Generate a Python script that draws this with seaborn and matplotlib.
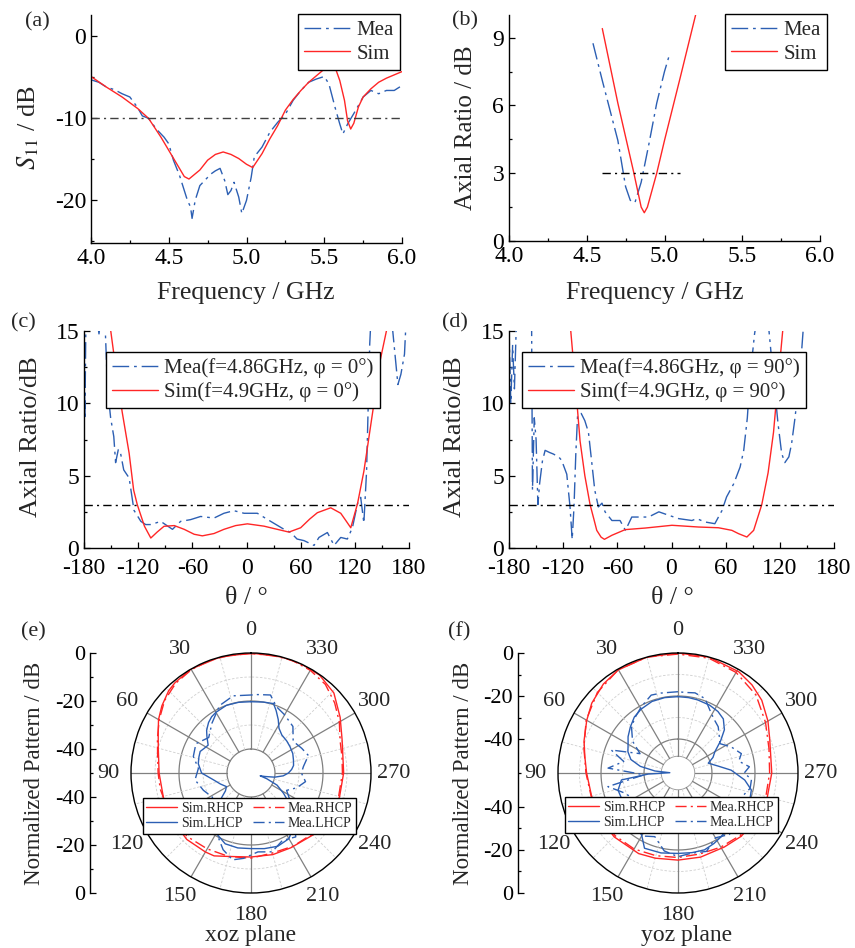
import numpy as np
import matplotlib
matplotlib.use('Agg')
import matplotlib.pyplot as plt
from matplotlib.ticker import MultipleLocator, FixedLocator
import seaborn as sns

sns.set_style('ticks')
plt.rcParams['font.family'] = ['Liberation Serif', 'DejaVu Serif']
plt.rcParams['mathtext.fontset'] = 'stix'
plt.rcParams['axes.unicode_minus'] = False

BLUE = '#2c5fb3'
RED = '#ff2626'
DASHDOT = (0, (12, 3.5, 2, 3.5))
REFDASH = (0, (6, 3, 1.5, 3))

# (a) S11 vs frequency
freq_a_sim = [4.0, 4.1, 4.2, 4.3, 4.37, 4.45, 4.5, 4.55, 4.6, 4.63, 4.7, 4.75, 4.8, 4.85, 4.9,
              4.95, 5.0, 5.04, 5.1, 5.15, 5.2, 5.25, 5.3, 5.35, 5.4, 5.45, 5.5, 5.53, 5.57, 5.6,
              5.63, 5.65, 5.67, 5.69, 5.72, 5.75, 5.8, 5.85, 5.9, 5.95, 6.0]
s11_sim = [-4.9, -6.2, -7.4, -8.8, -10.0, -12.3, -13.9, -15.5, -17.1, -17.4, -16.3, -15.1, -14.4, -14.1, -14.4,
           -14.9, -15.6, -16.0, -14.3, -12.5, -10.9, -9.0, -7.7, -6.6, -5.6, -4.8, -4.0, -3.6, -3.8, -5.4,
           -7.8, -10.3, -11.3, -10.6, -8.6, -7.4, -6.4, -5.6, -5.1, -4.7, -4.3]
freq_a_mea = [4.0, 4.05, 4.1, 4.15, 4.2, 4.25, 4.3, 4.33, 4.37, 4.42, 4.47, 4.5, 4.53, 4.57, 4.6,
              4.62, 4.64, 4.65, 4.67, 4.7, 4.73, 4.77, 4.8, 4.83, 4.86, 4.88, 4.9, 4.92, 4.95, 4.97,
              5.0, 5.03, 5.05, 5.1, 5.15, 5.2, 5.25, 5.3, 5.35, 5.4, 5.45, 5.5, 5.53, 5.57, 5.6,
              5.62, 5.65, 5.7, 5.75, 5.8, 5.85, 5.9, 5.95, 6.0]
s11_mea = [-5.3, -5.6, -6.2, -6.5, -7.0, -7.4, -8.7, -9.7, -10.0, -11.3, -12.3, -13.1, -15.1, -17.0, -18.8,
           -20.0, -20.8, -22.2, -20.0, -18.2, -17.6, -16.8, -16.4, -16.1, -17.6, -19.3, -18.8, -17.8, -19.6, -21.6,
           -20.0, -17.2, -14.7, -13.5, -11.7, -10.5, -9.5, -7.8, -6.6, -5.6, -5.2, -4.9, -5.8, -8.7, -10.7,
           -11.9, -10.7, -9.1, -7.4, -6.6, -7.0, -6.6, -6.6, -6.0]

# (b) axial ratio vs frequency
freq_b_sim = [4.6, 4.7, 4.8, 4.85, 4.87, 4.89, 4.95, 5.0, 5.1, 5.2]
ar_b_sim = [9.4, 6.1, 3.1, 1.5, 1.25, 1.5, 3.0, 4.45, 7.2, 10.0]
freq_b_mea = [4.54, 4.6, 4.7, 4.75, 4.78, 4.81, 4.85, 4.9, 4.95, 5.0, 5.03]
ar_b_mea = [8.75, 7.1, 4.45, 2.4, 1.8, 1.7, 2.6, 4.3, 6.1, 7.5, 8.2]

# (c) axial ratio vs theta, phi = 0
th_c_sim = [-151, -145, -137.7, -130, -125, -121, -113, -106, -99, -91.4, -80, -69, -58, -48.9, -36, -25, -12, 1,
            19.4, 30, 41.6, 47, 60, 70, 78.5, 93.3, 104.4, 110, 115.5, 123, 130, 133, 140, 147.5, 156]
ar_c_sim = [15.3, 12.5, 9.4, 6.55, 4.0, 3.0, 1.5, 0.69, 1.1, 1.5, 1.55, 1.29, 0.95, 0.84, 1.0, 1.29, 1.55, 1.67,
            1.51, 1.35, 1.18, 1.1, 1.4, 2.0, 2.44, 2.78, 2.4, 1.9, 1.4, 3.07, 5.3, 6.55, 9.5, 12.8, 15.3]
th_c_mea = [-180, -179, -178, -176, -166, -163.4, -161, -157, -154, -150.5, -147, -145, -142, -139.5, -136, -130,
            -124.6, -117, -111.7, -106, -95, -82, -73, -62, -50.8, -36, -25, -14, -2.7, 12, 26.8, 41.6, 49, 56,
            63.7, 74.8, 80.3, 89.6, 97, 104.4, 111.7, 117.3, 123, 126.5, 130, 133, 136.5, 138, 160, 162,
            167.7, 171, 175, 177]
ar_c_mea = [14.8, 8.9, 15.0, 16, 16, 14.8, 16, 16, 11.1, 9.0, 7.7, 5.9, 6.8, 6.55, 5.4, 4.84,
            2.6, 1.84, 1.62, 1.62, 1.84, 1.29, 1.84, 1.96, 2.18, 2.07, 2.4, 2.58, 2.4, 2.4, 1.84, 1.29, 1.07, 0.62,
            0.51, 0.18, 0.73, 1.07, 0.18, 0.73, 0.62, 1.4, 3.07, 3.5, 1.73, 5.3, 14.1, 16, 16, 15,
            11.3, 12.0, 13.4, 16]

# (d) axial ratio vs theta, phi = 90
th_d_sim = [-112, -106, -101.3, -96, -90.2, -86, -82.8, -78, -74.3, -66, -51.3, -29, 0.5, 30, 52, 66.9, 74.3,
            83.5, 91, 100, 107, 113, 118, 123.6]
ar_d_sim = [15.3, 11.0, 7.4, 5.0, 3.0, 2.0, 1.22, 0.75, 0.6, 0.88, 1.27, 1.38, 1.57, 1.45, 1.4, 1.22, 0.99,
            0.76, 1.22, 3.0, 5.2, 8.0, 11.5, 15.3]
th_d_mea = [-180, -178, -176, -174, -172, -165, -155, -154, -152, -150, -148, -146, -143, -140, -135, -131,
            -125, -121.7, -116, -112.4, -110, -108, -106, -104, -100, -96, -92, -89, -85, -81, -77, -73.6,
            -66, -57, -51, -44, -36, -25.5, -14, -3, 8, 22.6, 28, 37, 48, 56, 61, 69, 76, 80, 84, 87, 92,
            95, 105, 108, 111, 115, 118, 122, 125.5, 130, 133, 136.5, 142, 146]
ar_d_mea = [15.2, 10.0, 14.0, 11.0, 15.2, 16, 16, 4.0, 9.0, 7.5, 3.0, 4.5, 6.0, 6.75, 6.6, 6.5,
            6.3, 6.06, 5.1, 2.84, 0.6, 2.84, 6.5, 9.2, 9.3, 8.8, 8.0, 6.3, 4.0, 2.84, 3.1, 2.5,
            1.9, 1.9, 1.22, 2.14, 2.14, 2.14, 2.5, 2.26, 2.03, 1.9, 2.03, 1.8, 1.68, 2.6, 3.53, 4.45, 5.6, 6.75,
            9.0, 11.8, 14.8, 16, 16, 15, 13, 10.5, 8.6, 6.55, 5.9, 6.3, 7.2, 8.85, 11.8, 15.2]

# (e) xoz-plane patterns (angle in deg, level in dB)
ang_e_srh = [0, 15, 30, 40, 45, 53, 60, 67, 75, 90, 107, 120, 136, 150, 156, 165, 180, 195, 208, 225, 241,
             255, 270, 290, 302, 314, 325, 335, 345, 360]
e_srh = [0, 0, 0, -0.8, -1.5, -3.5, -5.5, -8, -10, -11.7, -12, -11.8, -11.5, -12, -12.2, -14, -15, -14.8,
         -14.7, -13.5, -12.3, -11.8, -11.4, -9.6, -6.2, -2, -0.2, 0, 0, 0]
ang_e_mrh = [0, 10, 20, 30, 40, 50, 60, 70, 80, 90, 100, 110, 120, 135, 150, 165, 180, 195, 210, 225, 240,
             255, 270, 280, 290, 300, 310, 320, 330, 340, 350, 360]
e_mrh = [-0.3, -0.2, 0, -0.3, -1.2, -3, -5.8, -8.5, -10.5, -11.3, -11.6, -12.2, -12, -12.5, -13.5, -14, -14.5,
         -15.5, -14.8, -14, -12.8, -12.2, -11.9, -11.5, -10.5, -7.5, -4.5, -1.8, -0.6, 0, -0.2, -0.3]
ang_e_slh = [0, 10, 20, 30, 35, 40, 46, 50, 57, 62, 67, 73, 80, 90, 100, 110, 119, 125, 130, 140, 150, 160,
             170, 180, 190, 200, 210, 220, 230, 238, 245, 250, 253, 256, 260, 265, 270, 275, 280, 287, 295,
             304, 312, 321, 328, 333, 338, 342, 350, 360]
e_slh = [-20.3, -20.1, -20, -20.8, -21.4, -22.5, -24.3, -26, -28.7, -28, -27, -27.3, -27.7, -29.4, -34, -36.5,
         -38.3, -37, -34, -27, -21, -18.6, -18.3, -18.5, -18, -17.5, -18.4, -22, -28, -34, -38, -43, -46, -44,
         -40, -36.5, -34.4, -33, -32, -31.5, -30.8, -30.4, -30, -29.6, -28, -25, -22, -19.6, -20, -20.3]
ang_e_mlh = [0, 13, 25, 38, 50, 62, 74, 85, 97, 110, 122, 135, 148, 160, 168, 175, 185, 195, 205, 215, 228,
             244, 252, 261, 270, 277, 287, 296, 307, 318, 330, 339, 346, 355, 360]
e_mlh = [-17.5, -17, -19, -23.6, -27, -24, -25, -28, -26.5, -28.9, -31, -29, -22, -16, -13, -14.3, -17, -16,
         -19, -17.5, -26, -33.5, -30, -27, -29, -28, -25, -26.5, -28, -23.9, -22, -20.4, -16.5, -17.2, -17.5]

# (f) yoz-plane patterns
ang_f_srh = [0, 15, 30, 40, 51, 60, 71, 80, 90, 105, 120, 135, 154, 165, 180, 195, 212, 225, 241, 255, 270,
             290, 300, 311, 320, 329, 345, 360]
f_srh = [0, 0, -0.4, -1.8, -4.2, -6.8, -9.6, -11.8, -13.3, -14.2, -14, -13.8, -14.1, -14.8, -15.3, -15.3,
         -15.2, -14.2, -13.3, -12.8, -12.2, -10.4, -7.5, -4.2, -2.3, -0.9, 0, 0]
ang_f_mrh = [0, 15, 30, 45, 60, 75, 90, 105, 120, 135, 150, 165, 180, 195, 210, 225, 240, 255, 270, 285,
             300, 315, 330, 345, 360]
f_mrh = [-0.5, 0, -0.3, -2.8, -6.5, -10.5, -13, -14, -14.3, -14.5, -15, -16, -16.5, -16.8, -16, -14.8, -14,
         -13.5, -13.2, -12, -8.8, -4.5, -1.8, -0.5, -0.5]
ang_f_slh = [0, 10, 20, 30, 38, 46, 54, 60, 67, 74, 80, 85, 88, 92, 97, 106, 115, 125, 135, 145, 156, 168,
             180, 190, 199, 207, 214, 225, 235, 245, 250, 257, 264, 273, 280, 288, 294, 300, 307, 313, 320,
             327, 335, 345, 352, 360]
f_slh = [-20.3, -20.2, -20.4, -21.5, -22.8, -25, -27.1, -29, -30.5, -33, -38, -45, -52, -42, -29.3, -26.8,
         -27, -30, -32, -25, -17.5, -17.8, -18.4, -18.2, -18, -19, -20, -21.5, -22, -21, -20.2, -20.8, -24.6,
         -31, -37, -41, -38, -36, -31, -26.3, -23, -21.7, -21, -20.6, -20.4, -20.3]
ang_f_mlh = [0, 12, 19, 29, 37, 45, 55, 63, 71, 78, 86, 93, 101, 110, 120, 135, 150, 160, 170, 180, 190,
             200, 210, 220, 235, 250, 258, 265, 270, 275, 281, 287, 296, 305, 312, 319, 325, 331, 340, 348,
             355, 360]
f_mlh = [-18, -17.8, -17.5, -20.6, -23, -25.2, -30, -36, -23, -30, -23.2, -40, -22.6, -29, -32, -28, -22,
         -24.3, -19, -16.9, -18, -17, -21, -18.5, -23, -24, -21.5, -21.5, -25, -22.5, -27, -25, -28.2, -32,
         -30, -27.3, -26, -24, -19, -17.7, -18.2, -18]

angle_ticks = list(range(0, 360, 30))
angle_labels = [str(a) for a in angle_ticks]

W, H = 855, 948
fig = plt.figure(figsize=(W / 100, H / 100), dpi=100)


def box(l, t, r, b):
    return [l / W, 1 - b / H, (r - l) / W, (b - t) / H]


def fpos(x, y):
    return (x / W, 1 - y / H)


def style_cart(ax, xpad=3.5):
    for s in ('top', 'right'):
        ax.spines[s].set_visible(False)
    for s in ('left', 'bottom'):
        ax.spines[s].set_linewidth(1.0)
        ax.spines[s].set_color('black')
    ax.tick_params(which='both', direction='in', labelsize=17, width=0.9, colors='black')
    ax.tick_params(which='major', length=4)
    ax.tick_params(which='minor', length=2.5)
    ax.tick_params(axis='x', which='major', pad=xpad)
    ax.set_xlabel('')
    ax.set_ylabel('')


def add_legend(ax, loc, x, y, size=15):
    ax.legend(loc=loc, bbox_to_anchor=fpos(x, y), bbox_transform=fig.transFigure, fontsize=size,
              frameon=True, fancybox=False, edgecolor='black', framealpha=1, borderaxespad=0,
              handlelength=2.2, handletextpad=0.3, borderpad=0.3, labelspacing=0.2)
    ax.get_legend().get_frame().set_linewidth(1.0)


# ---- (a)
ax = fig.add_axes(box(91, 15, 402, 243))
sns.lineplot(x=freq_a_mea, y=s11_mea, ax=ax, color=BLUE, lw=1.0, linestyle=DASHDOT, label='Mea')
sns.lineplot(x=freq_a_sim, y=s11_sim, ax=ax, color=RED, lw=1.0, label='Sim')
ax.plot([4.0, 6.0], [-10, -10], color='#404040', lw=1.0, linestyle=REFDASH)
ax.set_xlim(4.0, 6.0)
ax.set_ylim(-25.2, 2.6)
ax.set_xticks([4.0, 4.5, 5.0, 5.5, 6.0])
ax.set_xticklabels(['4.0', '4.5', '5.0', '5.5', '6.0'])
ax.set_yticks([0, -10, -20])
ax.xaxis.set_minor_locator(MultipleLocator(0.25))
ax.yaxis.set_minor_locator(MultipleLocator(5))
style_cart(ax)
add_legend(ax, 'upper right', 400, 14)

# ---- (b)
ax = fig.add_axes(box(509, 15, 820, 241))
sns.lineplot(x=freq_b_mea, y=ar_b_mea, ax=ax, color=BLUE, lw=1.0, linestyle=DASHDOT, label='Mea')
sns.lineplot(x=freq_b_sim, y=ar_b_sim, ax=ax, color=RED, lw=1.0, label='Sim')
ax.plot([4.6, 5.1], [3, 3], color='black', lw=1.0, linestyle=REFDASH)
ax.set_xlim(4.0, 6.0)
ax.set_ylim(0, 10)
ax.set_xticks([4.0, 4.5, 5.0, 5.5, 6.0])
ax.set_xticklabels(['4.0', '4.5', '5.0', '5.5', '6.0'])
ax.set_yticks([0, 3, 6, 9])
ax.xaxis.set_minor_locator(MultipleLocator(0.25))
ax.yaxis.set_minor_locator(MultipleLocator(1.5))
style_cart(ax)
add_legend(ax, 'upper right', 827, 14)

# ---- (c) and (d)
for bx, th_mea, ar_mea, th_sim, ar_sim, phi, leg_x in [
        ((84, 331, 409, 548), th_c_mea, ar_c_mea, th_c_sim, ar_c_sim, '0', 106),
        ((509, 331, 834, 548), th_d_mea, ar_d_mea, th_d_sim, ar_d_sim, '90', 522)]:
    ax = fig.add_axes(box(*bx))
    sns.lineplot(x=th_mea, y=ar_mea, ax=ax, color=BLUE, lw=1.0, linestyle=DASHDOT, sort=False,
                 estimator=None, label='Mea(f=4.86GHz, φ = %s°)' % phi)
    sns.lineplot(x=th_sim, y=ar_sim, ax=ax, color=RED, lw=1.0, sort=False, estimator=None,
                 label='Sim(f=4.9GHz, φ = %s°)' % phi)
    ax.plot([-180, 180], [3, 3], color='black', lw=1.0, linestyle=REFDASH)
    ax.set_xlim(-180, 180)
    ax.set_ylim(0, 15)
    ax.set_xticks(range(-180, 181, 60))
    ax.set_yticks([0, 5, 10, 15])
    ax.xaxis.set_minor_locator(MultipleLocator(30))
    ax.yaxis.set_minor_locator(MultipleLocator(2.5))
    style_cart(ax, xpad=7.5)
    add_legend(ax, 'upper left', leg_x, 352)


# ---- (e) and (f) polar patterns
def polar_grid(ax, r_in):
    th = np.linspace(0, 2 * np.pi, 361)
    for v in (-10, -30):
        ax.plot(th, np.full_like(th, v), color='#cfcfcf', lw=0.6, linestyle=(0, (3, 2)), zorder=0)
    for v in (-20, -40):
        ax.plot(th, np.full_like(th, v), color='#808080', lw=0.9, zorder=0)
    if r_in < -40:
        ax.plot(th, np.full_like(th, r_in), color='#a0a0a0', lw=0.7, zorder=0)
    for a in range(0, 360, 30):
        ax.plot([np.deg2rad(a)] * 2, [r_in, 0], color='#808080', lw=0.9, zorder=0)
    for a in range(15, 360, 30):
        ax.plot([np.deg2rad(a)] * 2, [r_in, 0], color='#cfcfcf', lw=0.6, linestyle=(0, (3, 2)), zorder=0)


panels = [
    (box(131, 653, 371, 893), -50.0, -40, ang_e_srh, e_srh, ang_e_mrh, e_mrh, ang_e_slh, e_slh,
     ang_e_mlh, e_mlh, (249.5, 816), 90, 'xoz plane', 251),
    (box(558, 653, 798, 893), -55.8, -48, ang_f_srh, f_srh, ang_f_mrh, f_mrh, ang_f_slh, f_slh,
     ang_f_mlh, f_mlh, (671.5, 815), 518, 'yoz plane', 687),
]
for (pb, r0, r_in, a1, v1, a2, v2, a3, v3, a4, v4, leg_c, lx, title, tx) in panels:
    ax = fig.add_axes(pb, projection='polar')
    ax.set_theta_zero_location('N')
    ax.set_theta_direction(1)
    polar_grid(ax, r_in)
    sns.lineplot(x=np.deg2rad(a1), y=v1, ax=ax, color=RED, lw=1.0, sort=False, estimator=None,
                 label='Sim.RHCP')
    sns.lineplot(x=np.deg2rad(a3), y=v3, ax=ax, color=BLUE, lw=1.0, sort=False, estimator=None,
                 label='Sim.LHCP')
    sns.lineplot(x=np.deg2rad(a2), y=v2, ax=ax, color=RED, lw=1.0, linestyle=(0, (8, 3, 1.5, 3)),
                 sort=False, estimator=None, label='Mea.RHCP')
    sns.lineplot(x=np.deg2rad(a4), y=v4, ax=ax, color=BLUE, lw=1.0, linestyle=(0, (8, 3, 1.5, 3)),
                 sort=False, estimator=None, label='Mea.LHCP')
    ax.set_rlim(r0, 0)
    ax.set_yticks([])
    ax.set_xticks(np.deg2rad(angle_ticks))
    ax.set_xticklabels(angle_labels)
    ax.grid(False)
    ax.tick_params(axis='x', labelsize=16, pad=6)
    ax.spines['polar'].set_color('black')
    ax.spines['polar'].set_linewidth(1.0)
    ax.set_xlabel('')
    ax.set_ylabel('')
    ax.legend(ncol=2, loc='center', bbox_to_anchor=fpos(*leg_c), bbox_transform=fig.transFigure,
              fontsize=10, frameon=True, fancybox=False, edgecolor='black', framealpha=1,
              handlelength=2.2, handletextpad=0.3, borderpad=0.25, labelspacing=0.15, columnspacing=0.7)
    fig.text(*fpos(tx, 936), title, fontsize=17, ha='center', va='center')

    # radial scale drawn as a separate vertical axis on the left
    lax = fig.add_axes(box(lx, 653, lx + 1, 893))
    lax.set_ylim(r0, -r0)
    db_major = [0, -20, -40]
    pos = [d - r0 for d in db_major] + [-(d - r0) for d in db_major[::-1]]
    labs = [str(d) for d in db_major] + [str(d) for d in db_major[::-1]]
    lax.yaxis.set_major_locator(FixedLocator(pos))
    lax.set_yticklabels(labs)
    db_minor = [-10, -30]
    mpos = [d - r0 for d in db_minor] + [-(d - r0) for d in db_minor] + [0]
    lax.yaxis.set_minor_locator(FixedLocator(mpos))
    lax.set_xticks([])
    for s in ('top', 'right', 'bottom'):
        lax.spines[s].set_visible(False)
    lax.spines['left'].set_linewidth(1.0)
    lax.spines['left'].set_color('black')
    lax.tick_params(which='both', direction='in', labelsize=16, width=0.9, colors='black')
    lax.tick_params(which='major', length=4)
    lax.tick_params(which='minor', length=2.5)
    lax.patch.set_alpha(0)

# ---- axis titles and panel letters
fig.text(*fpos(28, 128), r'$S_{11}$ / dB', fontsize=19, rotation=90, ha='center', va='center')
fig.text(*fpos(246, 293), 'Frequency / GHz', fontsize=18.5, ha='center', va='center')
fig.text(*fpos(466, 128), 'Axial Ratio / dB', fontsize=18, rotation=90, ha='center', va='center')
fig.text(*fpos(655, 293), 'Frequency / GHz', fontsize=18.5, ha='center', va='center')
fig.text(*fpos(31, 437), 'Axial Ratio/dB', fontsize=19, rotation=90, ha='center', va='center')
fig.text(*fpos(455, 437), 'Axial Ratio/dB', fontsize=19, rotation=90, ha='center', va='center')
fig.text(*fpos(246, 598), 'θ / °', fontsize=18.5, ha='center', va='center')
fig.text(*fpos(672, 598), 'θ / °', fontsize=18.5, ha='center', va='center')
fig.text(*fpos(34, 773), 'Normalized Pattern / dB', fontsize=16.5, rotation=90, ha='center', va='center')
fig.text(*fpos(463, 773), 'Normalized Pattern / dB', fontsize=16.5, rotation=90, ha='center', va='center')

for lab, x, y in [('(a)', 37, 22), ('(b)', 465, 21), ('(c)', 23, 323), ('(d)', 455, 323),
                  ('(e)', 33, 632), ('(f)', 459, 632)]:
    fig.text(*fpos(x, y), lab, fontsize=16, ha='center', va='center')

fig.savefig('out.png', dpi=100)
